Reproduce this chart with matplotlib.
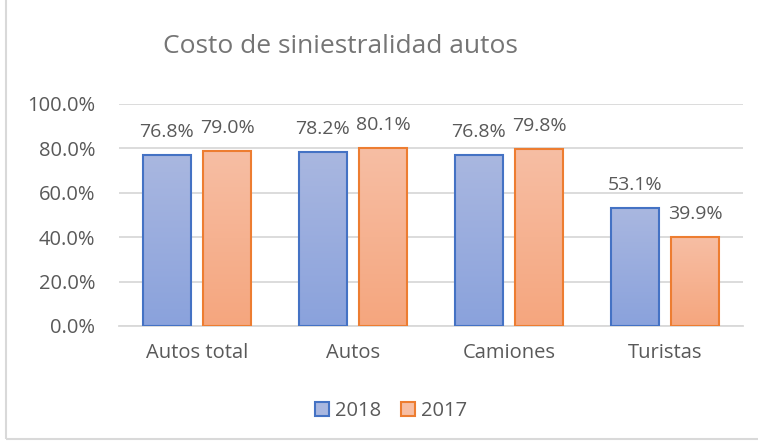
import numpy as np
import matplotlib.pyplot as plt
from matplotlib.patches import Rectangle
from matplotlib.ticker import PercentFormatter

categories = ['Autos total', 'Autos', 'Camiones', 'Turistas']
series_names = ['2018', '2017']
values_2018 = [76.8, 78.2, 76.8, 53.1]
values_2017 = [79.0, 80.1, 79.8, 39.9]

plt.rcParams['font.family'] = ['Open Sans', 'DejaVu Sans']
text_gray = '#595959'

fig = plt.figure(figsize=(7.58, 4.44), dpi=100)
ax = fig.add_axes([0.157, 0.2658, 0.823, 0.5])

# chart border (right/bottom edges fall outside the picture)
fig.patches.append(Rectangle((6 / 758, 1 - 438.5 / 444), 2, 1, transform=fig.transFigure,
                             fill=False, edgecolor='#d9d9d9', linewidth=1.5))

x = np.arange(len(categories))
width = 0.31
gap = 0.077
offsets = [-(width + gap) / 2, (width + gap) / 2]
edges = ['#4472c4', '#ed7d31']
grads = [('#8aa2dc', '#a9b7e0'), ('#f5a67e', '#f7bea4')]

def hex2rgb(h):
    return np.array([int(h[i:i + 2], 16) / 255 for i in (1, 3, 5)])

for vals, off, ec, (bottom_c, top_c), name in zip([values_2018, values_2017], offsets, edges, grads, series_names):
    bars = ax.bar(x + off, vals, width, facecolor='none', edgecolor=ec, linewidth=1.5, zorder=3, label=name)
    c0, c1 = hex2rgb(bottom_c), hex2rgb(top_c)
    t = np.linspace(0, 1, 100)[:, None]
    img = (c0 * (1 - t) + c1 * t)[:, None, :]
    for b, v in zip(bars, vals):
        bx, bw = b.get_x(), b.get_width()
        im = ax.imshow(img, extent=[bx, bx + bw, 0, v], origin='lower', aspect='auto', zorder=2)
        im.set_clip_path(b)
        ax.annotate(f'{v:.1f}%', (bx + bw / 2, v), xytext=(0, 13), textcoords='offset points',
                    ha='center', va='baseline', fontsize=14, color=text_gray)

ax.set_xlim(-0.5, len(categories) - 0.5)
ax.set_ylim(0, 100)
ax.set_yticks(np.arange(0, 101, 20))
ax.yaxis.set_major_formatter(PercentFormatter(decimals=1))
ax.set_xticks(x)
ax.set_xticklabels(categories)
ax.tick_params(axis='both', length=0, labelsize=14.5, colors=text_gray)
ax.tick_params(axis='x', pad=12)
ax.tick_params(axis='y', pad=17)
ax.grid(axis='y', color='#d9d9d9', linewidth=1.3, zorder=0)
ax.set_axisbelow(True)
for s in ['top', 'right', 'left']:
    ax.spines[s].set_visible(False)
ax.spines['bottom'].set_color('#d9d9d9')
ax.spines['bottom'].set_linewidth(1.3)

fig.text(340 / 758, 1 - 46 / 444, 'Costo de siniestralidad autos', ha='center', va='center',
         fontsize=19, color='#757575')

handles = [Rectangle((0, 0), 1, 1, facecolor=grads[i][1], edgecolor=edges[i], linewidth=1.5) for i in range(2)]
fig.legend(handles, series_names, loc='center', bbox_to_anchor=(391 / 758, 1 - 411 / 444), ncol=2,
           frameon=False, fontsize=14.5, labelcolor=text_gray, handlelength=0.7, handleheight=0.7,
           handletextpad=0.3, columnspacing=1.0)

fig.savefig('out.png', dpi=100)
